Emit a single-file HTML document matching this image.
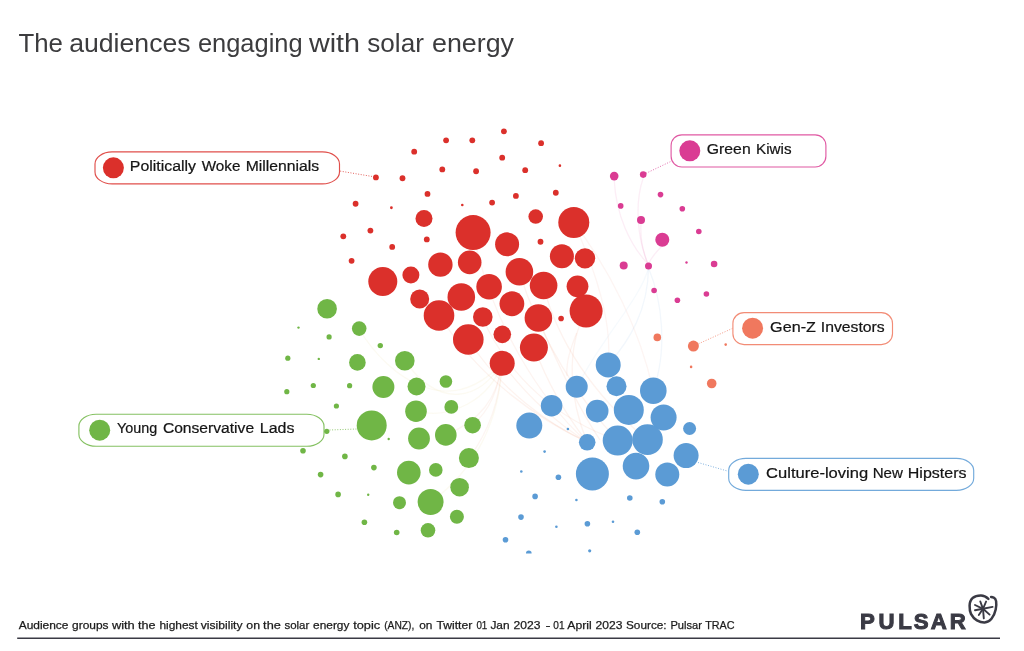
<!DOCTYPE html>
<html><head><meta charset="utf-8"><title>The audiences engaging with solar energy</title>
<style>
html,body{margin:0;padding:0;background:#fff;}
body{width:1024px;height:651px;overflow:hidden;font-family:"Liberation Sans",sans-serif;}
svg{display:block;}
text{font-family:"Liberation Sans",sans-serif;}
</style></head><body>
<svg width="1024" height="651" viewBox="0 0 1024 651">
<defs><clipPath id="chartclip"><rect x="0" y="0" width="1024" height="553.6"/></clipPath></defs>
<rect width="1024" height="651" fill="#fff"/>
<text y="52.0" font-size="26.0" fill="#3c3c3e" ><tspan x="18.4" textLength="44.5" lengthAdjust="spacingAndGlyphs">The</tspan> <tspan x="69.2" textLength="121.4" lengthAdjust="spacingAndGlyphs">audiences</tspan> <tspan x="197.9" textLength="104.7" lengthAdjust="spacingAndGlyphs">engaging</tspan> <tspan x="308.9" textLength="51.1" lengthAdjust="spacingAndGlyphs">with</tspan> <tspan x="367.3" textLength="56.6" lengthAdjust="spacingAndGlyphs">solar</tspan> <tspan x="432.0" textLength="82.0" lengthAdjust="spacingAndGlyphs">energy</tspan></text>
<g clip-path="url(#chartclip)"><g>
<path d="M614.2 180 C 616 215, 630 245, 648 264" stroke="#DA3C93" stroke-opacity="0.088" stroke-width="1.3" fill="none"/>
<path d="M643.2 178 C 634 205, 638 240, 648 264" stroke="#DA3C93" stroke-opacity="0.088" stroke-width="1.3" fill="none"/>
<path d="M641 224 C 640 240, 643 252, 648 264" stroke="#DA3C93" stroke-opacity="0.088" stroke-width="1.3" fill="none"/>
<path d="M662 246 C 656 252, 651 258, 648.5 264" stroke="#DA3C93" stroke-opacity="0.088" stroke-width="1.3" fill="none"/>
<path d="M468 339 C 500 390, 550 425, 587 442" stroke="#E8704A" stroke-opacity="0.088" stroke-width="1.3" fill="none"/>
<path d="M439 315 C 480 380, 540 420, 587 442" stroke="#E8704A" stroke-opacity="0.088" stroke-width="1.3" fill="none"/>
<path d="M502 363 C 530 400, 560 425, 587 442" stroke="#E8704A" stroke-opacity="0.088" stroke-width="1.3" fill="none"/>
<path d="M534 347 C 550 390, 570 420, 587 442" stroke="#E8704A" stroke-opacity="0.088" stroke-width="1.3" fill="none"/>
<path d="M538 318 C 560 370, 580 410, 600 440" stroke="#E8704A" stroke-opacity="0.088" stroke-width="1.3" fill="none"/>
<path d="M519 271 C 540 340, 580 400, 617 440" stroke="#E8704A" stroke-opacity="0.088" stroke-width="1.3" fill="none"/>
<path d="M586 311 C 565 350, 570 400, 587 442" stroke="#E8704A" stroke-opacity="0.088" stroke-width="1.3" fill="none"/>
<path d="M573.5 222 C 610 270, 640 330, 653 390" stroke="#E8704A" stroke-opacity="0.066" stroke-width="1.3" fill="none"/>
<path d="M573.5 222 C 600 280, 612 330, 608 365" stroke="#E8704A" stroke-opacity="0.066" stroke-width="1.3" fill="none"/>
<path d="M543 285 C 560 350, 600 400, 647 440" stroke="#E8704A" stroke-opacity="0.088" stroke-width="1.3" fill="none"/>
<path d="M473 232 C 490 320, 540 400, 587 442" stroke="#E8704A" stroke-opacity="0.077" stroke-width="1.3" fill="none"/>
<path d="M482 317 C 510 380, 560 420, 617 440" stroke="#E8704A" stroke-opacity="0.088" stroke-width="1.3" fill="none"/>
<path d="M576.6 333 C 570 350, 566 362, 567 376" stroke="#E8704A" stroke-opacity="0.077" stroke-width="1.3" fill="none"/>
<path d="M359 329 C 390 380, 450 420, 502 363" stroke="#d9c36a" stroke-opacity="0.088" stroke-width="1.3" fill="none"/>
<path d="M405 361 C 440 410, 480 400, 502 363" stroke="#d9c36a" stroke-opacity="0.088" stroke-width="1.3" fill="none"/>
<path d="M446 435 C 480 420, 497 400, 502 363" stroke="#E8704A" stroke-opacity="0.072" stroke-width="1.3" fill="none"/>
<path d="M469 458 C 490 430, 500 400, 502 363" stroke="#E8704A" stroke-opacity="0.072" stroke-width="1.3" fill="none"/>
<path d="M431 502 C 475 470, 500 420, 502 363" stroke="#d9c36a" stroke-opacity="0.088" stroke-width="1.3" fill="none"/>
<path d="M416 411 C 450 420, 490 400, 502 363" stroke="#d9c36a" stroke-opacity="0.088" stroke-width="1.3" fill="none"/>
<path d="M472.6 425 C 490 410, 498 390, 502 363" stroke="#E8704A" stroke-opacity="0.072" stroke-width="1.3" fill="none"/>
<path d="M608 365 C 630 340, 648 310, 648.5 268" stroke="#5B9BD5" stroke-opacity="0.077" stroke-width="1.3" fill="none"/>
<path d="M653 391 C 668 350, 662 300, 648.5 268" stroke="#5B9BD5" stroke-opacity="0.077" stroke-width="1.3" fill="none"/>
<path d="M577 387 C 600 340, 640 300, 648.5 268" stroke="#5B9BD5" stroke-opacity="0.055" stroke-width="1.3" fill="none"/>
<g transform="translate(0.3 0.35)"><circle cx="503.6" cy="131.0" r="2.9" fill="#DB302B"/>
<circle cx="445.8" cy="140.0" r="2.9" fill="#DB302B"/>
<circle cx="472.0" cy="140.0" r="2.9" fill="#DB302B"/>
<circle cx="540.8" cy="142.8" r="2.9" fill="#DB302B"/>
<circle cx="413.9" cy="151.3" r="2.9" fill="#DB302B"/>
<circle cx="501.9" cy="157.3" r="2.9" fill="#DB302B"/>
<circle cx="442.0" cy="169.1" r="2.9" fill="#DB302B"/>
<circle cx="475.8" cy="170.9" r="2.9" fill="#DB302B"/>
<circle cx="524.9" cy="169.8" r="2.9" fill="#DB302B"/>
<circle cx="559.6" cy="165.3" r="1.3" fill="#DB302B"/>
<circle cx="375.6" cy="177.1" r="2.9" fill="#DB302B"/>
<circle cx="402.2" cy="177.9" r="2.9" fill="#DB302B"/>
<circle cx="427.2" cy="193.6" r="2.9" fill="#DB302B"/>
<circle cx="355.3" cy="203.4" r="2.9" fill="#DB302B"/>
<circle cx="391.1" cy="207.4" r="1.4" fill="#DB302B"/>
<circle cx="462.0" cy="204.7" r="1.3" fill="#DB302B"/>
<circle cx="491.8" cy="202.2" r="2.9" fill="#DB302B"/>
<circle cx="515.6" cy="195.6" r="2.9" fill="#DB302B"/>
<circle cx="555.5" cy="192.4" r="2.9" fill="#DB302B"/>
<circle cx="370.1" cy="230.2" r="2.9" fill="#DB302B"/>
<circle cx="343.0" cy="236.0" r="2.9" fill="#DB302B"/>
<circle cx="391.9" cy="246.6" r="2.9" fill="#DB302B"/>
<circle cx="426.5" cy="239.1" r="2.9" fill="#DB302B"/>
<circle cx="351.3" cy="260.5" r="2.9" fill="#DB302B"/>
<circle cx="540.2" cy="241.4" r="2.9" fill="#DB302B"/>
<circle cx="560.8" cy="318.1" r="2.8" fill="#DB302B"/>
<circle cx="423.7" cy="218.2" r="8.5" fill="#DB302B"/>
<circle cx="472.8" cy="232.2" r="17.5" fill="#DB302B"/>
<circle cx="535.4" cy="216.2" r="7.3" fill="#DB302B"/>
<circle cx="573.5" cy="222.2" r="15.5" fill="#DB302B"/>
<circle cx="506.8" cy="244.0" r="12.0" fill="#DB302B"/>
<circle cx="469.4" cy="262.0" r="11.8" fill="#DB302B"/>
<circle cx="440.1" cy="264.3" r="12.2" fill="#DB302B"/>
<circle cx="410.6" cy="274.6" r="8.5" fill="#DB302B"/>
<circle cx="382.5" cy="281.2" r="14.5" fill="#DB302B"/>
<circle cx="561.6" cy="256.0" r="12.0" fill="#DB302B"/>
<circle cx="584.7" cy="258.0" r="10.2" fill="#DB302B"/>
<circle cx="519.1" cy="271.4" r="13.8" fill="#DB302B"/>
<circle cx="543.3" cy="285.1" r="13.8" fill="#DB302B"/>
<circle cx="577.2" cy="286.0" r="10.9" fill="#DB302B"/>
<circle cx="488.8" cy="286.4" r="12.8" fill="#DB302B"/>
<circle cx="461.0" cy="296.6" r="13.8" fill="#DB302B"/>
<circle cx="419.4" cy="298.6" r="9.5" fill="#DB302B"/>
<circle cx="511.6" cy="303.4" r="12.4" fill="#DB302B"/>
<circle cx="585.8" cy="310.6" r="16.5" fill="#DB302B"/>
<circle cx="438.7" cy="315.2" r="15.3" fill="#DB302B"/>
<circle cx="482.5" cy="316.7" r="9.8" fill="#DB302B"/>
<circle cx="538.1" cy="317.6" r="13.8" fill="#DB302B"/>
<circle cx="502.0" cy="334.0" r="8.8" fill="#DB302B"/>
<circle cx="468.0" cy="339.2" r="15.3" fill="#DB302B"/>
<circle cx="533.6" cy="347.2" r="14.0" fill="#DB302B"/>
<circle cx="501.9" cy="363.0" r="12.5" fill="#DB302B"/></g>
<circle cx="327.1" cy="308.8" r="9.8" fill="#70B646"/>
<circle cx="298.5" cy="327.6" r="1.2" fill="#70B646"/>
<circle cx="359.2" cy="328.6" r="7.3" fill="#70B646"/>
<circle cx="329.1" cy="336.9" r="2.6" fill="#70B646"/>
<circle cx="380.3" cy="345.6" r="2.7" fill="#70B646"/>
<circle cx="287.8" cy="358.2" r="2.6" fill="#70B646"/>
<circle cx="318.8" cy="358.9" r="1.2" fill="#70B646"/>
<circle cx="357.4" cy="362.4" r="8.3" fill="#70B646"/>
<circle cx="404.8" cy="360.7" r="9.8" fill="#70B646"/>
<circle cx="313.3" cy="385.5" r="2.6" fill="#70B646"/>
<circle cx="349.6" cy="385.7" r="2.6" fill="#70B646"/>
<circle cx="286.8" cy="391.7" r="2.6" fill="#70B646"/>
<circle cx="383.4" cy="387.0" r="11.0" fill="#70B646"/>
<circle cx="416.5" cy="386.5" r="9.0" fill="#70B646"/>
<circle cx="445.9" cy="381.5" r="6.3" fill="#70B646"/>
<circle cx="336.4" cy="406.0" r="2.6" fill="#70B646"/>
<circle cx="416.0" cy="411.2" r="10.8" fill="#70B646"/>
<circle cx="451.3" cy="406.9" r="6.9" fill="#70B646"/>
<circle cx="371.7" cy="425.4" r="15.0" fill="#70B646"/>
<circle cx="326.8" cy="431.3" r="2.6" fill="#70B646"/>
<circle cx="472.6" cy="425.2" r="8.3" fill="#70B646"/>
<circle cx="388.7" cy="439.0" r="1.2" fill="#70B646"/>
<circle cx="419.0" cy="438.5" r="10.9" fill="#70B646"/>
<circle cx="445.8" cy="434.9" r="10.8" fill="#70B646"/>
<circle cx="303.0" cy="450.7" r="2.8" fill="#70B646"/>
<circle cx="344.9" cy="456.4" r="2.8" fill="#70B646"/>
<circle cx="468.9" cy="458.1" r="10.0" fill="#70B646"/>
<circle cx="373.9" cy="467.6" r="2.8" fill="#70B646"/>
<circle cx="320.6" cy="474.6" r="2.8" fill="#70B646"/>
<circle cx="408.8" cy="472.6" r="11.8" fill="#70B646"/>
<circle cx="435.8" cy="469.9" r="6.8" fill="#70B646"/>
<circle cx="459.6" cy="487.2" r="9.3" fill="#70B646"/>
<circle cx="338.1" cy="494.4" r="2.8" fill="#70B646"/>
<circle cx="368.2" cy="494.7" r="1.2" fill="#70B646"/>
<circle cx="399.5" cy="502.7" r="6.5" fill="#70B646"/>
<circle cx="430.6" cy="502.0" r="13.0" fill="#70B646"/>
<circle cx="456.9" cy="516.7" r="7.0" fill="#70B646"/>
<circle cx="364.4" cy="522.2" r="2.8" fill="#70B646"/>
<circle cx="428.0" cy="530.3" r="7.3" fill="#70B646"/>
<circle cx="396.7" cy="532.5" r="2.8" fill="#70B646"/>
<circle cx="608.2" cy="364.9" r="12.5" fill="#5B9BD5"/>
<circle cx="576.7" cy="386.7" r="11.0" fill="#5B9BD5"/>
<circle cx="616.5" cy="386.2" r="10.0" fill="#5B9BD5"/>
<circle cx="653.3" cy="390.7" r="13.3" fill="#5B9BD5"/>
<circle cx="551.6" cy="405.7" r="10.8" fill="#5B9BD5"/>
<circle cx="597.2" cy="411.1" r="11.3" fill="#5B9BD5"/>
<circle cx="628.8" cy="409.9" r="15.0" fill="#5B9BD5"/>
<circle cx="663.6" cy="417.5" r="13.0" fill="#5B9BD5"/>
<circle cx="529.3" cy="425.6" r="13.0" fill="#5B9BD5"/>
<circle cx="689.6" cy="428.5" r="6.5" fill="#5B9BD5"/>
<circle cx="567.9" cy="429.0" r="1.3" fill="#5B9BD5"/>
<circle cx="587.2" cy="442.3" r="8.3" fill="#5B9BD5"/>
<circle cx="617.7" cy="440.6" r="15.0" fill="#5B9BD5"/>
<circle cx="647.5" cy="439.6" r="15.3" fill="#5B9BD5"/>
<circle cx="686.1" cy="455.6" r="12.5" fill="#5B9BD5"/>
<circle cx="544.6" cy="451.6" r="1.3" fill="#5B9BD5"/>
<circle cx="636.0" cy="466.1" r="13.3" fill="#5B9BD5"/>
<circle cx="667.3" cy="474.4" r="12.0" fill="#5B9BD5"/>
<circle cx="592.4" cy="473.9" r="16.5" fill="#5B9BD5"/>
<circle cx="521.3" cy="471.5" r="1.3" fill="#5B9BD5"/>
<circle cx="558.4" cy="477.2" r="2.8" fill="#5B9BD5"/>
<circle cx="535.1" cy="496.4" r="2.8" fill="#5B9BD5"/>
<circle cx="576.4" cy="500.0" r="1.3" fill="#5B9BD5"/>
<circle cx="629.8" cy="498.0" r="2.8" fill="#5B9BD5"/>
<circle cx="662.3" cy="501.7" r="2.8" fill="#5B9BD5"/>
<circle cx="521.0" cy="517.1" r="2.8" fill="#5B9BD5"/>
<circle cx="556.4" cy="526.8" r="1.3" fill="#5B9BD5"/>
<circle cx="587.4" cy="523.7" r="2.8" fill="#5B9BD5"/>
<circle cx="613.0" cy="521.7" r="1.3" fill="#5B9BD5"/>
<circle cx="637.3" cy="532.3" r="2.8" fill="#5B9BD5"/>
<circle cx="505.5" cy="539.7" r="2.8" fill="#5B9BD5"/>
<circle cx="528.8" cy="553.3" r="2.8" fill="#5B9BD5"/>
<circle cx="589.7" cy="550.8" r="1.6" fill="#5B9BD5"/>
<circle cx="614.2" cy="176.1" r="4.3" fill="#DA3C93"/>
<circle cx="643.2" cy="174.6" r="3.3" fill="#DA3C93"/>
<circle cx="660.5" cy="194.6" r="2.8" fill="#DA3C93"/>
<circle cx="620.7" cy="205.9" r="2.8" fill="#DA3C93"/>
<circle cx="682.3" cy="208.7" r="2.8" fill="#DA3C93"/>
<circle cx="641.0" cy="220.0" r="4.0" fill="#DA3C93"/>
<circle cx="698.8" cy="231.5" r="2.8" fill="#DA3C93"/>
<circle cx="662.3" cy="239.7" r="7.0" fill="#DA3C93"/>
<circle cx="623.7" cy="265.5" r="4.0" fill="#DA3C93"/>
<circle cx="648.5" cy="266.0" r="3.5" fill="#DA3C93"/>
<circle cx="686.5" cy="262.5" r="1.2" fill="#DA3C93"/>
<circle cx="714.1" cy="264.0" r="3.3" fill="#DA3C93"/>
<circle cx="654.1" cy="290.5" r="2.8" fill="#DA3C93"/>
<circle cx="677.4" cy="300.3" r="2.8" fill="#DA3C93"/>
<circle cx="706.4" cy="294.0" r="2.8" fill="#DA3C93"/>
<circle cx="657.3" cy="337.4" r="3.8" fill="#F0785E"/>
<circle cx="693.4" cy="346.1" r="5.5" fill="#F0785E"/>
<circle cx="725.7" cy="344.6" r="1.3" fill="#F0785E"/>
<circle cx="691.1" cy="366.9" r="1.3" fill="#F0785E"/>
<circle cx="711.7" cy="383.5" r="4.8" fill="#F0785E"/>
</g></g>
<line x1="340.2" y1="171.1" x2="373" y2="176.6" stroke="#DB302B" stroke-width="1" stroke-opacity="0.75" stroke-dasharray="1 1.6"/>
<line x1="329.5" y1="430" x2="356.5" y2="429" stroke="#70B646" stroke-width="1" stroke-opacity="0.75" stroke-dasharray="1 1.6"/>
<line x1="646" y1="173.3" x2="670.3" y2="161.7" stroke="#DA3C93" stroke-width="1" stroke-opacity="0.75" stroke-dasharray="1 1.6"/>
<line x1="698.5" y1="343.8" x2="732.4" y2="328.4" stroke="#F0785E" stroke-width="1" stroke-opacity="0.75" stroke-dasharray="1 1.6"/>
<line x1="698" y1="462.5" x2="728.0" y2="471.2" stroke="#5B9BD5" stroke-width="1" stroke-opacity="0.75" stroke-dasharray="1 1.6"/>
<rect x="95.0" y="151.9" width="244.5" height="32.0" rx="17.1" ry="12" fill="#fff" stroke="#DB302B" stroke-width="1.15" stroke-opacity="0.85"/>
<circle cx="113.4" cy="167.8" r="10.5" fill="#DB302B"/>
<text y="171.0" font-size="15.2" fill="#151515" stroke="#151515" stroke-width="0.22"><tspan x="129.8" textLength="66.2" lengthAdjust="spacingAndGlyphs">Politically</tspan> <tspan x="201.7" textLength="38.7" lengthAdjust="spacingAndGlyphs">Woke</tspan> <tspan x="245.7" textLength="73.4" lengthAdjust="spacingAndGlyphs">Millennials</tspan></text>
<rect x="78.9" y="414.2" width="245.1" height="32.0" rx="17.2" ry="12" fill="#fff" stroke="#70B646" stroke-width="1.15" stroke-opacity="0.85"/>
<circle cx="99.7" cy="430.2" r="10.5" fill="#70B646"/>
<text y="433.3" font-size="15.2" fill="#151515" stroke="#151515" stroke-width="0.22"><tspan x="117.0" textLength="40.3" lengthAdjust="spacingAndGlyphs">Young</tspan> <tspan x="162.9" textLength="91.2" lengthAdjust="spacingAndGlyphs">Conservative</tspan> <tspan x="259.8" textLength="34.6" lengthAdjust="spacingAndGlyphs">Lads</tspan></text>
<rect x="671.1" y="134.8" width="154.8" height="32.2" rx="10.8" ry="10.8" fill="#fff" stroke="#DA3C93" stroke-width="1.15" stroke-opacity="0.85"/>
<circle cx="689.8" cy="150.8" r="10.5" fill="#DA3C93"/>
<text y="154.2" font-size="15.2" fill="#151515" stroke="#151515" stroke-width="0.22"><tspan x="706.8" textLength="43.9" lengthAdjust="spacingAndGlyphs">Green</tspan> <tspan x="756.1" textLength="35.5" lengthAdjust="spacingAndGlyphs">Kiwis</tspan></text>
<rect x="732.9" y="312.6" width="159.6" height="32.0" rx="11.2" ry="10.8" fill="#fff" stroke="#F0785E" stroke-width="1.15" stroke-opacity="0.85"/>
<circle cx="752.6" cy="328.2" r="10.5" fill="#F0785E"/>
<text y="331.7" font-size="15.2" fill="#151515" stroke="#151515" stroke-width="0.22"><tspan x="770.1" textLength="45.8" lengthAdjust="spacingAndGlyphs">Gen-Z</tspan> <tspan x="820.8" textLength="63.9" lengthAdjust="spacingAndGlyphs">Investors</tspan></text>
<rect x="728.7" y="458.4" width="245.0" height="31.9" rx="17.2" ry="12" fill="#fff" stroke="#5B9BD5" stroke-width="1.15" stroke-opacity="0.85"/>
<circle cx="748.3" cy="474.2" r="10.5" fill="#5B9BD5"/>
<text y="477.7" font-size="15.2" fill="#151515" stroke="#151515" stroke-width="0.22"><tspan x="766.1" textLength="102.0" lengthAdjust="spacingAndGlyphs">Culture-loving</tspan> <tspan x="872.7" textLength="30.2" lengthAdjust="spacingAndGlyphs">New</tspan> <tspan x="907.8" textLength="58.7" lengthAdjust="spacingAndGlyphs">Hipsters</tspan></text>

<text y="629.0" font-size="11.1" fill="#1c1c1c" stroke="#1c1c1c" stroke-width="0.25"><tspan x="18.7" textLength="49.8" lengthAdjust="spacingAndGlyphs">Audience</tspan> <tspan x="72.1" textLength="36.5" lengthAdjust="spacingAndGlyphs">groups</tspan> <tspan x="111.9" textLength="22.9" lengthAdjust="spacingAndGlyphs">with</tspan> <tspan x="138.1" textLength="17.5" lengthAdjust="spacingAndGlyphs">the</tspan> <tspan x="159.4" textLength="38.4" lengthAdjust="spacingAndGlyphs">highest</tspan> <tspan x="200.8" textLength="41.7" lengthAdjust="spacingAndGlyphs">visibility</tspan> <tspan x="246.3" textLength="13.7" lengthAdjust="spacingAndGlyphs">on</tspan> <tspan x="263.1" textLength="17.7" lengthAdjust="spacingAndGlyphs">the</tspan> <tspan x="284.4" textLength="24.9" lengthAdjust="spacingAndGlyphs">solar</tspan> <tspan x="313.1" textLength="36.3" lengthAdjust="spacingAndGlyphs">energy</tspan> <tspan x="353.2" textLength="26.9" lengthAdjust="spacingAndGlyphs">topic</tspan> <tspan x="384.2" textLength="30.2" lengthAdjust="spacingAndGlyphs">(ANZ),</tspan> <tspan x="419.2" textLength="13.2" lengthAdjust="spacingAndGlyphs">on</tspan> <tspan x="436.5" textLength="35.8" lengthAdjust="spacingAndGlyphs">Twitter</tspan> <tspan x="476.4" textLength="10.9" lengthAdjust="spacingAndGlyphs">01</tspan> <tspan x="490.4" textLength="19.2" lengthAdjust="spacingAndGlyphs">Jan</tspan> <tspan x="513.5" textLength="26.9" lengthAdjust="spacingAndGlyphs">2023</tspan> <tspan x="545.5" textLength="5.0" lengthAdjust="spacingAndGlyphs">-</tspan> <tspan x="553.3" textLength="11.2" lengthAdjust="spacingAndGlyphs">01</tspan> <tspan x="567.3" textLength="24.4" lengthAdjust="spacingAndGlyphs">April</tspan> <tspan x="595.5" textLength="26.9" lengthAdjust="spacingAndGlyphs">2023</tspan> <tspan x="626.0" textLength="40.6" lengthAdjust="spacingAndGlyphs">Source:</tspan> <tspan x="670.4" textLength="31.5" lengthAdjust="spacingAndGlyphs">Pulsar</tspan> <tspan x="705.2" textLength="29.4" lengthAdjust="spacingAndGlyphs">TRAC</tspan></text>
<rect x="17.2" y="637.5" width="982.8" height="1.5" fill="#3a3a44"/>
<text x="860.1 878.4 898.2 913.8 930.7 949.8" y="629.1" font-size="22.2" font-weight="bold" fill="#3a3a44" stroke="#3a3a44" stroke-width="1.0">PULSAR</text>
<g fill="none" stroke="#3a3a44" stroke-linecap="round" stroke-linejoin="round">
<path d="M988.4 598.8 C 986 596.5, 983.5 595.3, 980.7 595.4 C 977.5 595.5, 974.8 596.2, 973 597.7 C 970.5 600, 969.6 602.8, 969.6 605.7 C 969.5 609, 970 611.8, 971.1 614.2 C 972.5 616.9, 974.4 618.9, 976.9 620.3 C 979.3 621.7, 982 622.7, 984.6 622.6 C 987.5 622.4, 989.8 620.9, 991.5 618.8 C 993.6 616.2, 995 613, 995.7 609.6 C 996.3 606.6, 996.5 603.5, 996.1 601.1 C 995.8 599.5, 995 598.3, 993.8 597.7 C 993 597.2, 992 597, 991.1 596.9" stroke-width="2.5"/>
<g stroke-width="1.9">
<path d="M983 608.8 L980.3 601.5"/><path d="M983 608.8 L986.1 601.5"/><path d="M983 608.8 L975 605"/><path d="M983 608.8 L975 610.3"/>
<path d="M983 608.8 L992.6 606.9"/><path d="M983 608.8 L989.6 614.6"/><path d="M983 608.8 L983.8 618.4"/><path d="M983 608.8 L978.8 615"/>
</g></g>
</svg>
</body></html>
